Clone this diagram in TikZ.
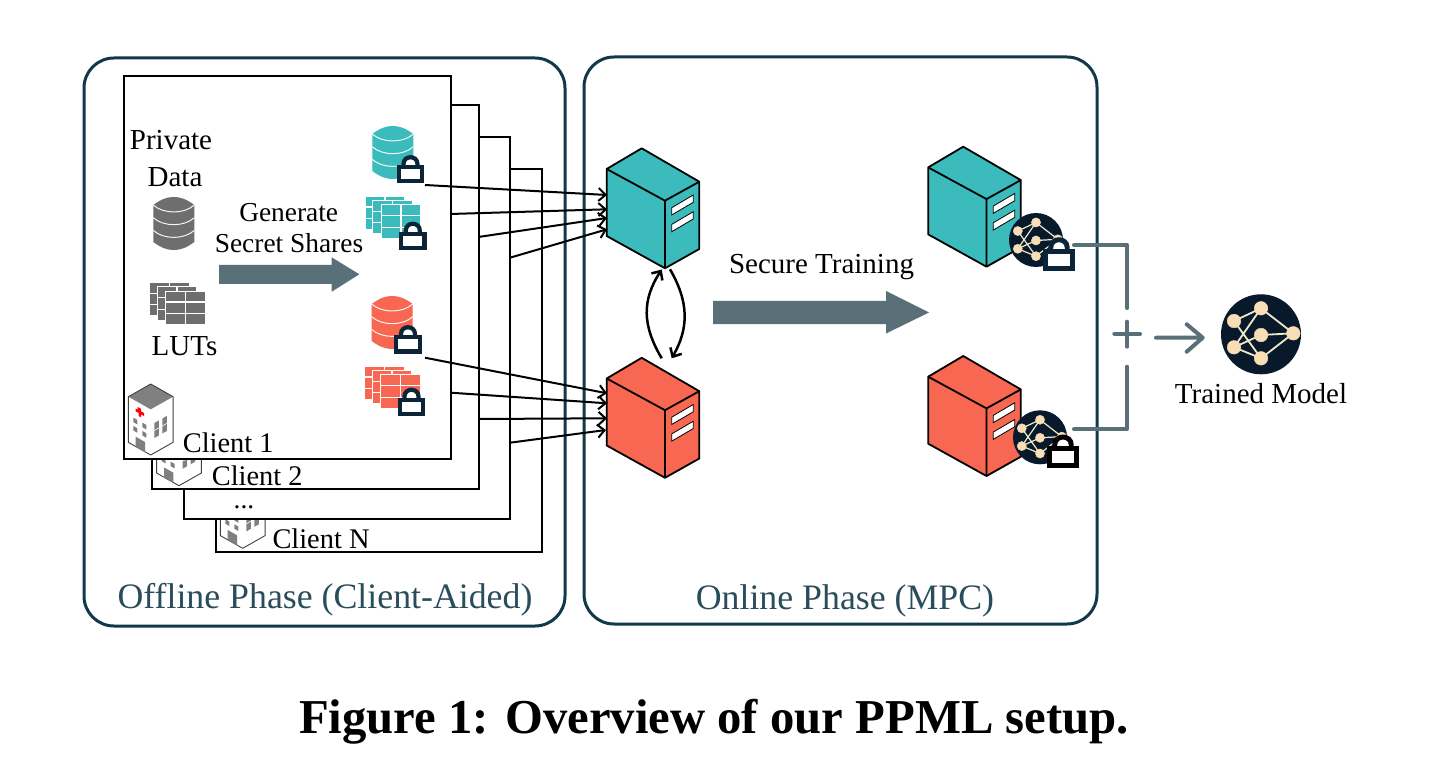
\documentclass[tikz,border=0pt]{standalone}
\usepackage{fontspec}
\setmainfont{Liberation Serif}
\usetikzlibrary{arrows.meta}
\definecolor{tealc}{HTML}{3BBBBB}
\definecolor{redc}{HTML}{F76752}
\definecolor{greyc}{HTML}{6E6E6E}
\definecolor{arrowc}{HTML}{5A7078}
\definecolor{framec}{HTML}{12394A}
\definecolor{lockc}{HTML}{0B2438}
\definecolor{nnbg}{HTML}{07192B}
\definecolor{nnnode}{HTML}{F8DDB5}
\definecolor{nnedge}{HTML}{F0E8C8}
\tikzset{
  phasebox/.style={draw=framec,line width=3pt,rounded corners=30pt},
  sheet/.style={draw=black,fill=white,line width=2pt},
  srvline/.style={draw=black,line width=1.8pt,line join=round},
  conn/.style={draw=black,line width=2pt,-{Straight Barb[length=7pt,width=13pt]}},
  combine/.style={draw=arrowc,line width=4pt,line cap=round,line join=round},
  bigarrow/.style={fill=arrowc,draw=none},
  txt/.style={inner sep=0pt,anchor=base,font=\fontsize{27.4pt}{30pt}\selectfont},
  txtl/.style={inner sep=0pt,anchor=base west,font=\fontsize{28.4pt}{30pt}\selectfont},
  txtb/.style={inner sep=0pt,anchor=base,font=\fontsize{29pt}{32pt}\selectfont},
  phasetxt/.style={inner sep=0pt,anchor=base,text=framec!90!white,font=\fontsize{35.8pt}{38pt}\selectfont}
}
% x, y (top left), colour
\newcommand\DbIcon[3]{\begin{scope}[shift={(#1,#2)}]
  \fill[#3] (0,8) .. controls (8,2) and (14,0) .. (20.5,0) .. controls (27,0) and (33,2) .. (41,8)
    -- (41,45) .. controls (33,51) and (27,53) .. (20.5,53) .. controls (14,53) and (8,51) .. (0,45) -- cycle;
  \foreach \d in {0,12.7,25.4}{
    \draw[white!92!#3,line width=1pt,shift={(0,\d)}] (0,8) .. controls (10,17.3) and (31,17.3) .. (41,8);}
\end{scope}}
\newcommand\OneTable[3]{\begin{scope}[shift={(#1,#2)}]
  \draw[white,line width=.9pt,fill=#3] (0,0) rectangle (39.7,33.5);
  \draw[white,line width=1.1pt] (0,11) -- (39.7,11) (0,22.5) -- (39.7,22.5) (20,0) -- (20,33.5);
\end{scope}}
\newcommand\TableIcon[3]{\begin{scope}[shift={(#1,#2)}]
  \OneTable{0}{0}{#3}\OneTable{7.7}{4.4}{#3}\OneTable{16}{8.7}{#3}
\end{scope}}
% centre x, bottom y, scale, colour
\newcommand\LockIcon[4]{\begin{scope}[shift={(#1,#2)},scale=#3]
  \fill[white] (-7,-16) -- (-7,-20) .. controls (-7,-28.5) and (7,-28.5) .. (7,-20) -- (7,-16) -- cycle;
  \draw[#4,line width={#3*4.2pt}] (-7,-15) -- (-7,-19.5) .. controls (-7,-28.5) and (7,-28.5) .. (7,-19.5) -- (7,-15);
  \draw[#4,line width={#3*4.2pt},fill=white] (-11.7,-16.2) rectangle (11.7,-2.1);
\end{scope}}
% apex x, y, colour
\newcommand\ServerIcon[3]{\begin{scope}[shift={(#1,#2)}]
  \fill[#3] (0,0) -- (57.6,33.4) -- (57.6,100.7) -- (23.3,120) -- (-35,87.7) -- (-35,20.7) -- cycle;
  \draw[srvline] (0,0) -- (57.6,33.4) -- (57.6,100.7) -- (23.3,120) -- (-35,87.7) -- (-35,20.7) -- cycle;
  \draw[srvline] (-35,20.7) -- (23.3,52.4) -- (57.6,33.4) (23.3,52.4) -- (23.3,120);
  \foreach \d in {0,16.7}{
    \draw[black,line width=.8pt,fill=white,shift={(0,\d)}] (30,59.4) -- (51.6,46.7) -- (51.6,54) -- (30,66.7) -- cycle;}
\end{scope}}
\newcommand\LWin[5]{\fill[#5] (#1,#2) -- ++(#3,{.567*#3}) -- ++(0,#4) -- ++(-#3,{-.567*#3}) -- cycle;}
\newcommand\RWin[5]{\fill[#5] (#1,#2) -- ++(#3,{-.567*#3}) -- ++(0,#4) -- ++(-#3,{.567*#3}) -- cycle;}
% apex x, y
\newcommand\HospitalIcon[2]{\begin{scope}[shift={(#1,#2)}]
  \fill[white] (0,0) -- (22.4,12.7) -- (22.4,58.3) -- (0,71) -- (-22.4,58.3) -- (-22.4,12.7) -- cycle;
  \fill[black!50] (0,0) -- (22.4,12.7) -- (0,25.3) -- (-22.4,12.7) -- cycle;
  \draw[black!75,line width=.9pt,line join=round] (0,0) -- (22.4,12.7) -- (22.4,58.3) -- (0,71) -- (-22.4,58.3) -- (-22.4,12.7) -- cycle;
  \LWin{-17.3}{33.7}{4}{4.5}{black!50}\LWin{-8.3}{38.7}{4}{4.5}{black!50}
  \LWin{-17.3}{42}{4}{4.5}{black!50}\LWin{-8.3}{47}{4}{4.5}{black!50}
  \LWin{-15}{52.7}{9.3}{10}{black!50}
  \RWin{3.7}{39}{4.5}{7}{black!50}\RWin{11.7}{34.5}{4.5}{7}{black!50}
  \RWin{3.7}{47}{4.5}{7}{black!50}\RWin{11.7}{42.5}{4.5}{7}{black!50}
  \fill[red] (-13,23) -- (-9.5,25) -- (-9.5,27.5) -- (-6.7,29) -- (-6.7,32) -- (-9.5,30.5) -- (-9.5,33.5) -- (-12,32) -- (-12,29) -- (-15,27.3) -- (-15,24.5) -- (-13,25.7) -- cycle;
\end{scope}}
% centre x, y, scale
\newcommand\NnIcon[3]{\begin{scope}[shift={(#1,#2)},scale=#3]
  \fill[nnbg] (0,0) circle (40);
  \coordinate (na) at (0,-26); \coordinate (nb) at (-27,-13.3); \coordinate (nc) at (0,.7);
  \coordinate (nd) at (-27,13); \coordinate (ne) at (0,24); \coordinate (nf) at (32.3,-1);
  \draw[nnedge,line width={#3*1.8pt}] (nb)--(na) (na)--(nf) (nb)--(ne) (nd)--(na) (nd)--(nc) (nd)--(ne) (nc)--(nf) (ne)--(nf);
  \foreach \p in {na,nb,nc,nd,ne,nf}{\draw[nnnode,fill=nnnode] (\p) circle (6.8);}
\end{scope}}
\begin{document}
\begin{tikzpicture}[x=1pt,y=-1pt]
\useasboundingbox (0,0) rectangle (1444,762);
\fill[white] (0,0) rectangle (1444,762);
% phase frames
\draw[phasebox] (84,58) rectangle (565,626);
\draw[phasebox] (584,57) rectangle (1097,624);
% client sheets
\draw[sheet] (216,169) rectangle (542,551.5);
\HospitalIcon{242.7}{477.3}
\draw[sheet] (184,137) rectangle (510,519);
\draw[sheet] (152,105) rectangle (478.5,489);
\HospitalIcon{179}{414.7}
\draw[sheet] (124,76) rectangle (450.5,459);
\HospitalIcon{150.7}{384}
% icons
\DbIcon{153.3}{197}{greyc}
\TableIcon{149.3}{282.3}{greyc}
\DbIcon{372.3}{126}{tealc}
\TableIcon{365}{196}{tealc}
\DbIcon{371.7}{296}{redc}
\TableIcon{364.3}{366}{redc}
\LockIcon{410.5}{183.5}{1}{lockc}
\LockIcon{412.8}{250}{1}{lockc}
\LockIcon{408}{353.5}{1}{lockc}
\LockIcon{411.5}{416}{1}{lockc}
% generate arrow
\fill[bigarrow] (219,265) -- (331.7,265) -- (331.7,257.3) -- (359.3,274.3) -- (331.7,291.7) -- (331.7,284) -- (219,284) -- cycle;
% servers
\ServerIcon{641.7}{148.3}{tealc}
\ServerIcon{641.7}{357.8}{redc}
\ServerIcon{963.2}{146.7}{tealc}
\ServerIcon{963.2}{356}{redc}
% secure arrow
\fill[bigarrow] (713,301) -- (886,301) -- (886,291) -- (929,312.5) -- (886,333.5) -- (886,324) -- (713,324) -- cycle;
% text
\node[txtb] (private) at (171,149.5) {Private};
\node[txtb] (data) at (175,186.5) {Data};
\node[txt] (gen) at (288.7,221.5) {Generate};
\node[txt] (secret) at (289,252.5) {Secret Shares};
\node[txtb] (luts) at (184.5,355.5) {LUTs};
\node[txtl] (c1) at (182.7,452.5) {Client 1};
\node[txtl] (c2) at (211.7,485) {Client 2};
\node[txt] (dots) at (244,508.5) {...};
\node[txtl] (cn) at (272.3,548) {Client N};
\node[txtb] (secure) at (821.5,273) {Secure Training};
\node[txtb] (trained) at (1261,403.7) {Trained Model};
\node[phasetxt] (offline) at (325,608) {Offline Phase (Client-Aided)};
\node[phasetxt] (online) at (845,609) {Online Phase (MPC)};
\node[inner sep=0pt,anchor=base,font=\bfseries\fontsize{48.7pt}{52pt}\selectfont] (caption) at (714,733) {Figure 1: Overview of our PPML setup.};
% connector ends
\coordinate (s1) at (425,185); \coordinate (s2) at (450,214); \coordinate (s3) at (478.3,237); \coordinate (s4) at (510,257.7);
\coordinate (t1) at (607,195); \coordinate (t2) at (607,209.3); \coordinate (t3) at (607,218); \coordinate (t4) at (607,229.3);
\coordinate (r1) at (425,357.7); \coordinate (r2) at (450.7,392.7); \coordinate (r3) at (478.3,419); \coordinate (r4) at (510,442.7);
\coordinate (u1) at (607,393.3); \coordinate (u2) at (607,403.3); \coordinate (u3) at (607,418.3); \coordinate (u4) at (606,430);
\foreach \a/\b in {s1/t1,s2/t2,s3/t3,s4/t4,r1/u1,r2/u2,r3/u3,r4/u4}{\draw[conn] (\a) -- (\b);}
\coordinate (up1) at (661.7,358.3); \coordinate (up2) at (661.7,269.5);
\coordinate (dn1) at (670,269.3); \coordinate (dn2) at (671.7,358.3);
\draw[conn,line width=2.5pt] (up1) .. controls (642,325) and (642,300) .. (up2);
\draw[conn,line width=2.5pt] (dn1) .. controls (689,302) and (689,328) .. (dn2);
% models
\NnIcon{1036}{240}{.675}
\NnIcon{1040}{437.3}{.675}
\NnIcon{1261}{334.3}{1}
\LockIcon{1059}{270.7}{1.18}{lockc}
\LockIcon{1063}{468}{1.18}{black}
% combine
\coordinate (m1) at (1074,245.3); \coordinate (m2) at (1127.3,245.3); \coordinate (m3) at (1127.3,308);
\coordinate (m4) at (1074,429.3); \coordinate (m5) at (1127,429.3); \coordinate (m6) at (1127,366.7);
\draw[combine] (m1) -- (m2) -- (m3);
\draw[combine] (m4) -- (m5) -- (m6);
\coordinate (pl) at (1114.3,333.7); \coordinate (pr) at (1140,333.7); \coordinate (pt) at (1127,321.7); \coordinate (pb) at (1127,346.7);
\draw[combine] (pl) -- (pr) (pt) -- (pb);
\coordinate (aa) at (1156,337.7); \coordinate (ab) at (1202.7,337.7); \coordinate (ac) at (1186.7,324.3); \coordinate (ad) at (1186.7,351.7);
\draw[combine] (aa) -- (ab) (ac) -- (ab) -- (ad);
\end{tikzpicture}
\end{document}
